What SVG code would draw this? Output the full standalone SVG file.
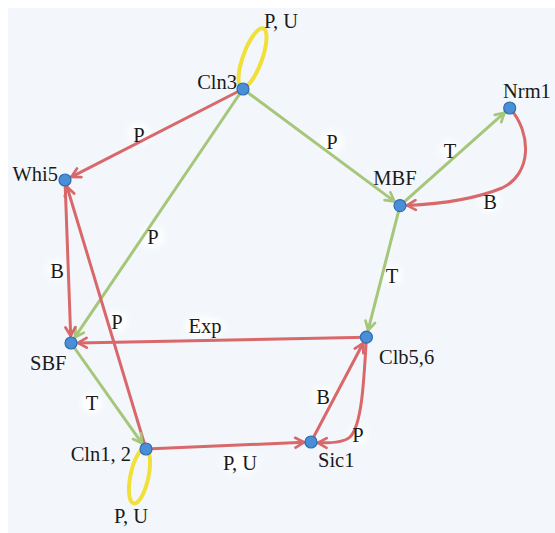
<svg xmlns="http://www.w3.org/2000/svg" width="555" height="533" viewBox="0 0 555 533">
<style>
.r{stroke:#d9686b;stroke-width:3;fill:none;stroke-linecap:round}
.g{stroke:#a6c67a;stroke-width:3;fill:none;stroke-linecap:round}
.y{stroke:#f1e03a;stroke-width:4;fill:none}
.n{fill:#4a8fd6;stroke:#2c6db3;stroke-width:1.2}
text{font-family:"Liberation Serif","Times New Roman",serif;font-size:20.5px;fill:#1a1a1a}
.h{fill:#ffffff;filter:url(#blur)}
</style>
<defs>
<filter id="blur" x="-50%" y="-50%" width="200%" height="200%"><feGaussianBlur stdDeviation="3"/></filter>
<marker id="ar" viewBox="0 0 12 12" refX="10" refY="6" markerWidth="13" markerHeight="13" markerUnits="userSpaceOnUse" orient="auto"><path d="M2,1.5 L10,6 L2,10.5" fill="none" stroke="#d9686b" stroke-width="2.5" stroke-linecap="round" stroke-linejoin="round"/></marker>
<marker id="ag" viewBox="0 0 12 12" refX="10" refY="6" markerWidth="13" markerHeight="13" markerUnits="userSpaceOnUse" orient="auto"><path d="M2,1.5 L10,6 L2,10.5" fill="none" stroke="#a6c67a" stroke-width="2.5" stroke-linecap="round" stroke-linejoin="round"/></marker>
</defs>
<rect x="0" y="0" width="555" height="533" fill="#ffffff"/>
<rect x="8" y="8" width="547" height="525" fill="#f3f7fb"/>

<g id="label-halos">
<ellipse class="h" cx="139" cy="134" rx="11" ry="11"/>
<ellipse class="h" cx="332" cy="142" rx="11" ry="11"/>
<ellipse class="h" cx="450" cy="150" rx="10" ry="10"/>
<ellipse class="h" cx="490" cy="202" rx="10" ry="10"/>
<ellipse class="h" cx="153" cy="237" rx="11" ry="11"/>
<ellipse class="h" cx="57" cy="270" rx="10" ry="10"/>
<ellipse class="h" cx="392" cy="275" rx="10" ry="10"/>
<ellipse class="h" cx="117" cy="322" rx="10" ry="10"/>
<ellipse class="h" cx="205" cy="327" rx="20" ry="10"/>
<ellipse class="h" cx="323" cy="397" rx="10" ry="10"/>
<ellipse class="h" cx="92" cy="403" rx="10" ry="10"/>
<ellipse class="h" cx="358" cy="435" rx="9" ry="9"/>
<ellipse class="h" cx="240" cy="463" rx="19" ry="10"/>
</g>

<g id="connectors">
<ellipse class="y" cx="252.5" cy="58" rx="9.5" ry="31.5" transform="rotate(20 252.5 58)"/>
<ellipse class="y" cx="139.5" cy="476" rx="9" ry="28" transform="rotate(12 139.5 476)"/>
<line class="r" x1="243" y1="89" x2="71.5" y2="176.8" marker-end="url(#ar)"/>
<line class="g" x1="243" y1="89" x2="394.4" y2="201.4" marker-end="url(#ag)"/>
<line class="g" x1="243" y1="89" x2="74.9" y2="337.2" marker-end="url(#ag)"/>
<line class="r" x1="65" y1="180" x2="70.7" y2="336" marker-end="url(#ar)"/>
<line class="r" x1="146" y1="449" x2="67" y2="186.7" marker-end="url(#ar)"/>
<line class="r" x1="366.4" y1="337.2" x2="78" y2="342.9" marker-end="url(#ar)"/>
<line class="g" x1="400" y1="205.6" x2="368.1" y2="330.2" marker-end="url(#ag)"/>
<line class="g" x1="400" y1="205.6" x2="504.5" y2="112.7" marker-end="url(#ag)"/>
<path class="r" d="M509.7,108 C532,133 532,174 502,188 C475,199 440,204 407,205.4" marker-end="url(#ar)"/>
<line class="g" x1="71" y1="343" x2="142" y2="443.3" marker-end="url(#ag)"/>
<line class="r" x1="146" y1="449" x2="304" y2="442.3" marker-end="url(#ar)"/>
<line class="r" x1="311" y1="442" x2="363.1" y2="343.2" marker-end="url(#ar)"/>
<path class="r" d="M366.4,337.2 C364,380 362,425 350,437 Q343,443.5 318,442.8" marker-end="url(#ar)"/>
</g>

<g id="edge-labels">
<text x="139" y="141.5" text-anchor="middle">P</text>
<text x="332" y="148.5" text-anchor="middle">P</text>
<text x="450" y="157.5" text-anchor="middle">T</text>
<text x="490" y="208.5" text-anchor="middle">B</text>
<text x="153" y="243.5" text-anchor="middle">P</text>
<text x="57" y="277.5" text-anchor="middle">B</text>
<text x="392" y="282.5" text-anchor="middle">T</text>
<text x="117" y="328.5" text-anchor="middle">P</text>
<text x="205" y="333" text-anchor="middle">Exp</text>
<text x="323" y="403.5" text-anchor="middle">B</text>
<text x="92" y="410" text-anchor="middle">T</text>
<text x="358" y="441.5" text-anchor="middle">P</text>
<text x="240" y="470" text-anchor="middle">P, U</text>
<text x="281" y="28" text-anchor="middle">P, U</text>
<text x="131" y="523" text-anchor="middle">P, U</text>
</g>

<g id="node-Cln3"><circle class="n" cx="243" cy="89" r="6"/><text x="237" y="89" text-anchor="end">Cln3</text></g>
<g id="node-Whi5"><circle class="n" cx="65" cy="180" r="6"/><text x="58" y="181" text-anchor="end">Whi5</text></g>
<g id="node-MBF"><circle class="n" cx="400" cy="205.6" r="6"/><text x="395" y="185" text-anchor="middle">MBF</text></g>
<g id="node-Nrm1"><circle class="n" cx="509.7" cy="108" r="6"/><text x="503" y="98">Nrm1</text></g>
<g id="node-SBF"><circle class="n" cx="71" cy="343" r="6"/><text x="30" y="370">SBF</text></g>
<g id="node-Clb56"><circle class="n" cx="366.4" cy="337.2" r="6"/><text x="379" y="364">Clb5,6</text></g>
<g id="node-Cln12"><circle class="n" cx="146" cy="449" r="6"/><text x="131" y="461" text-anchor="end">Cln1, 2</text></g>
<g id="node-Sic1"><circle class="n" cx="311" cy="442" r="6"/><text x="318" y="467">Sic1</text></g>
</svg>
